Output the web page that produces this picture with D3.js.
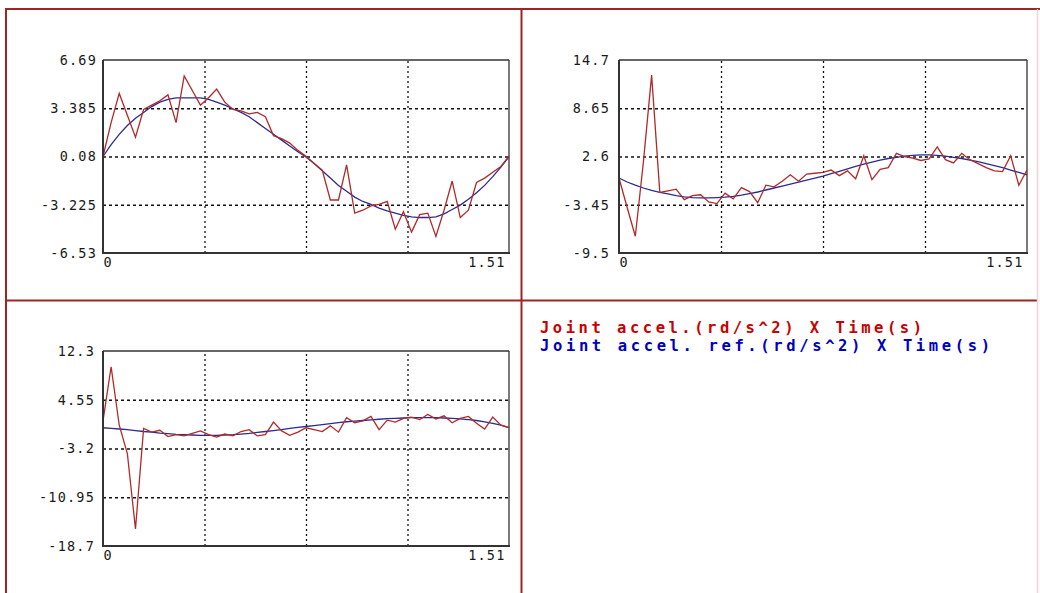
<!DOCTYPE html>
<html><head><meta charset="utf-8">
<script src="https://cdn.jsdelivr.net/npm/d3@7"></script>
<style>
html,body{margin:0;padding:0;background:#fff;}
svg{display:block;}
.tick text{font-family:"DejaVu Sans Mono",monospace;}
</style></head>
<body><svg id="c" width="1040" height="593"></svg>
<script>
// ---- data ----
const time = [0,0.0302,0.0604,0.0906,0.1208,0.151,0.1812,0.2114,0.2416,0.2718,0.302,0.3322,0.3624,0.3926,0.4228,0.453,0.4832,0.5134,0.5436,0.5738,0.604,0.6342,0.6644,0.6946,0.7248,0.755,0.7852,0.8154,0.8456,0.8758,0.906,0.9362,0.9664,0.9966,1.0268,1.057,1.0872,1.1174,1.1476,1.1778,1.208,1.2382,1.2684,1.2986,1.3288,1.359,1.3892,1.4194,1.4496,1.4798,1.51];

const accel1 = [0.08,2.4,4.4,2.9,1.4,3.3,3.6,3.9,4.3,2.4,5.6,4.6,3.6,4.1,4.7,3.8,3.3,3.2,3.0,3.1,2.8,1.5,1.3,1.0,0.5,0.1,-0.4,-0.85,-2.9,-2.9,-0.5,-3.8,-3.6,-3.3,-3.2,-3.0,-4.9,-3.7,-5.1,-3.9,-3.8,-5.4,-3.6,-1.6,-4.1,-3.6,-1.7,-1.4,-1.0,-0.6,0.08];
const ref1 = [0.08,0.9,1.6,2.2,2.7,3.1,3.5,3.8,4.0,4.1,4.1,4.1,4.1,4.0,3.8,3.6,3.35,3.1,2.8,2.4,2.0,1.6,1.2,0.8,0.4,0.05,-0.4,-0.9,-1.4,-1.9,-2.3,-2.7,-3.0,-3.2,-3.45,-3.65,-3.8,-3.95,-4.05,-4.1,-4.1,-4.05,-3.85,-3.55,-3.25,-2.85,-2.4,-1.9,-1.3,-0.65,0.08];

const accel2 = [-0.1,-3.8,-7.4,2.0,12.8,-1.9,-1.7,-1.5,-2.8,-2.3,-2.2,-3.1,-3.3,-2.0,-2.7,-1.3,-1.8,-3.2,-1.0,-1.2,-0.5,0.3,-0.5,0.4,0.5,0.6,0.9,0.2,0.8,-0.2,2.7,-0.3,1.0,1.2,3.0,2.6,2.4,2.1,2.3,3.8,2.2,1.8,3.0,2.2,1.7,1.2,0.8,0.7,2.7,-1.0,0.9];
const ref2 = [-0.1,-0.6,-1.0,-1.35,-1.65,-1.9,-2.1,-2.3,-2.45,-2.55,-2.6,-2.6,-2.55,-2.5,-2.4,-2.25,-2.05,-1.85,-1.6,-1.35,-1.1,-0.85,-0.6,-0.35,-0.1,0.15,0.45,0.75,1.05,1.35,1.65,1.9,2.15,2.35,2.5,2.65,2.75,2.8,2.8,2.75,2.65,2.5,2.35,2.15,1.95,1.7,1.45,1.2,0.9,0.6,0.3];

const accel3 = [1.2,9.8,0.5,-4.0,-16.0,0.0,-0.6,-0.3,-1.3,-1.0,-1.2,-0.8,-0.4,-1.0,-1.4,-0.9,-1.2,-0.5,-0.2,-1.2,-1.0,1.0,-0.4,-1.1,-0.6,0.1,-0.2,-0.5,0.4,-0.6,1.7,0.9,1.2,1.9,-0.2,1.3,1.0,1.6,1.8,1.4,2.2,1.5,2.0,0.9,1.6,1.9,0.8,-0.1,1.8,0.5,0.1];
const ref3 = [0.1,0.0,-0.1,-0.2,-0.35,-0.5,-0.6,-0.75,-0.85,-0.95,-1.0,-1.05,-1.1,-1.1,-1.1,-1.05,-1.0,-0.9,-0.8,-0.65,-0.5,-0.35,-0.2,0.0,0.15,0.3,0.45,0.6,0.75,0.9,1.05,1.15,1.25,1.35,1.45,1.55,1.6,1.65,1.7,1.7,1.7,1.7,1.65,1.6,1.5,1.4,1.25,1.05,0.8,0.5,0.1];

const yTicks1 = [6.69,3.385,0.08,-3.225,-6.53];
const yTicks2 = [14.7,8.65,2.6,-3.45,-9.5];
const yTicks3 = [12.3,4.55,-3.2,-10.95,-18.7];
const yLabels1 = ["6.69","3.385","0.08","-3.225","-6.53"];
const yLabels2 = ["14.7","8.65","2.6","-3.45","-9.5"];
const yLabels3 = ["12.3","4.55","-3.2","-10.95","-18.7"];
const xDomain = [0,1.51];
const xGrid = [0.3775,0.755,1.1325];
const xLabels = ["0","1.51"];
const legendLabels = ["Joint accel.(rd/s^2) X Time(s)","Joint accel. ref.(rd/s^2) X Time(s)"];

// ---- drawing ----
const svg = d3.select("#c");
svg.append("rect").attr("width",1040).attr("height",593).attr("fill","#fff");

const frameCol = "#9c2626";
const frame = svg.append("g").attr("stroke",frameCol).attr("stroke-width",2).attr("fill","none");
frame.append("line").attr("x1",5).attr("x2",1040).attr("y1",9).attr("y2",9);
frame.append("line").attr("x1",6).attr("x2",6).attr("y1",8).attr("y2",593);
frame.append("line").attr("x1",521.5).attr("x2",521.5).attr("y1",8).attr("y2",593);
frame.append("line").attr("x1",6).attr("x2",1037).attr("y1",300.5).attr("y2",300.5);
svg.append("line").attr("x1",1037.5).attr("x2",1037.5).attr("y1",9).attr("y2",593).attr("stroke","#f2d4d4").attr("stroke-width",1.5);

const panels = [
  {l:103,t:60,r:509,b:253,ticks:yTicks1,labels:yLabels1,a:accel1,ref:ref1,lo:6},
  {l:619,t:60,r:1027,b:253,ticks:yTicks2,labels:yLabels2,a:accel2,ref:ref2,lo:9},
  {l:103,t:351,r:509,b:546,ticks:yTicks3,labels:yLabels3,a:accel3,ref:ref3,lo:8}
];

const redCol = "#b02a2a", blueCol = "#2b2b8e";

panels.forEach(p => {
  const x = d3.scaleLinear().domain(xDomain).range([p.l,p.r]);
  const y = d3.scaleLinear().domain([p.ticks[4],p.ticks[0]]).range([p.b,p.t]);
  const g = svg.append("g");
  const w = p.r - p.l, h = p.b - p.t;

  // grid
  const gy = g.append("g").attr("transform",`translate(${p.l},0)`)
    .call(d3.axisLeft(y).tickValues(p.ticks.slice(1,4)).tickSize(-w).tickFormat(""));
  gy.select(".domain").remove();
  gy.selectAll("line").attr("stroke","#111").attr("stroke-width",1.3).attr("stroke-dasharray","3,3");
  const gx = g.append("g").attr("transform",`translate(0,${p.b})`)
    .call(d3.axisBottom(x).tickValues(xGrid).tickSize(-h).tickFormat(""));
  gx.select(".domain").remove();
  gx.selectAll("line").attr("stroke","#111").attr("stroke-width",1.3).attr("stroke-dasharray","2,3");

  // frame of the plot
  g.append("line").attr("x1",p.l).attr("x2",p.r).attr("y1",p.t).attr("y2",p.t).attr("stroke","#333").attr("stroke-width",1.3);
  g.append("line").attr("x1",p.r).attr("x2",p.r).attr("y1",p.t).attr("y2",p.b).attr("stroke","#333").attr("stroke-width",1.3);

  // lines
  const line = d3.line().x((d,i)=>x(time[i])).y(d=>y(d));
  g.append("path").datum(p.ref).attr("d",line).attr("fill","none").attr("stroke",blueCol).attr("stroke-width",1.3);
  g.append("path").datum(p.a).attr("d",line).attr("fill","none").attr("stroke",redCol).attr("stroke-width",1.3);

  // axes
  g.append("line").attr("x1",p.l).attr("x2",p.l).attr("y1",p.t).attr("y2",p.b+1).attr("stroke","#333").attr("stroke-width",2);
  g.append("line").attr("x1",p.l-1).attr("x2",p.r+1).attr("y1",p.b).attr("y2",p.b).attr("stroke","#333").attr("stroke-width",2);

  // y tick labels
  const ya = g.append("g").attr("transform",`translate(${p.l - p.lo},0)`)
    .call(d3.axisLeft(y).tickValues(p.ticks).tickSize(0).tickPadding(0).tickFormat((d,i)=>p.labels[i]));
  ya.select(".domain").remove();
  ya.selectAll("text").attr("font-size","13.5px").attr("fill","#1a1a1a").attr("letter-spacing","1.2px");

  // x labels
  const xa = g.append("g").attr("transform",`translate(0,${p.b})`)
    .call(d3.axisBottom(x).tickValues(xDomain).tickSize(0).tickPadding(4).tickFormat((d,i)=>xLabels[i]));
  xa.select(".domain").remove();
  xa.selectAll("text").attr("font-size","13.5px").attr("fill","#1a1a1a").attr("letter-spacing","1.2px")
    .attr("text-anchor",(d,i)=> i===0 ? "start" : "end")
    .attr("dx",(d,i)=> i===0 ? "0" : "-4");
});

// legend
const legCols = ["#c80000","#0000c0"];
const legWidths = [382,450];
legendLabels.forEach((t,i)=>{
  svg.append("text").attr("x",540).attr("y",333+18*i)
    .attr("font-family","'DejaVu Sans Mono',monospace").attr("font-weight","bold")
    .attr("font-size","15.5px").attr("fill",legCols[i])
    .attr("textLength",legWidths[i]).attr("lengthAdjust","spacing")
    .text(t);
});
</script>
</body></html>
